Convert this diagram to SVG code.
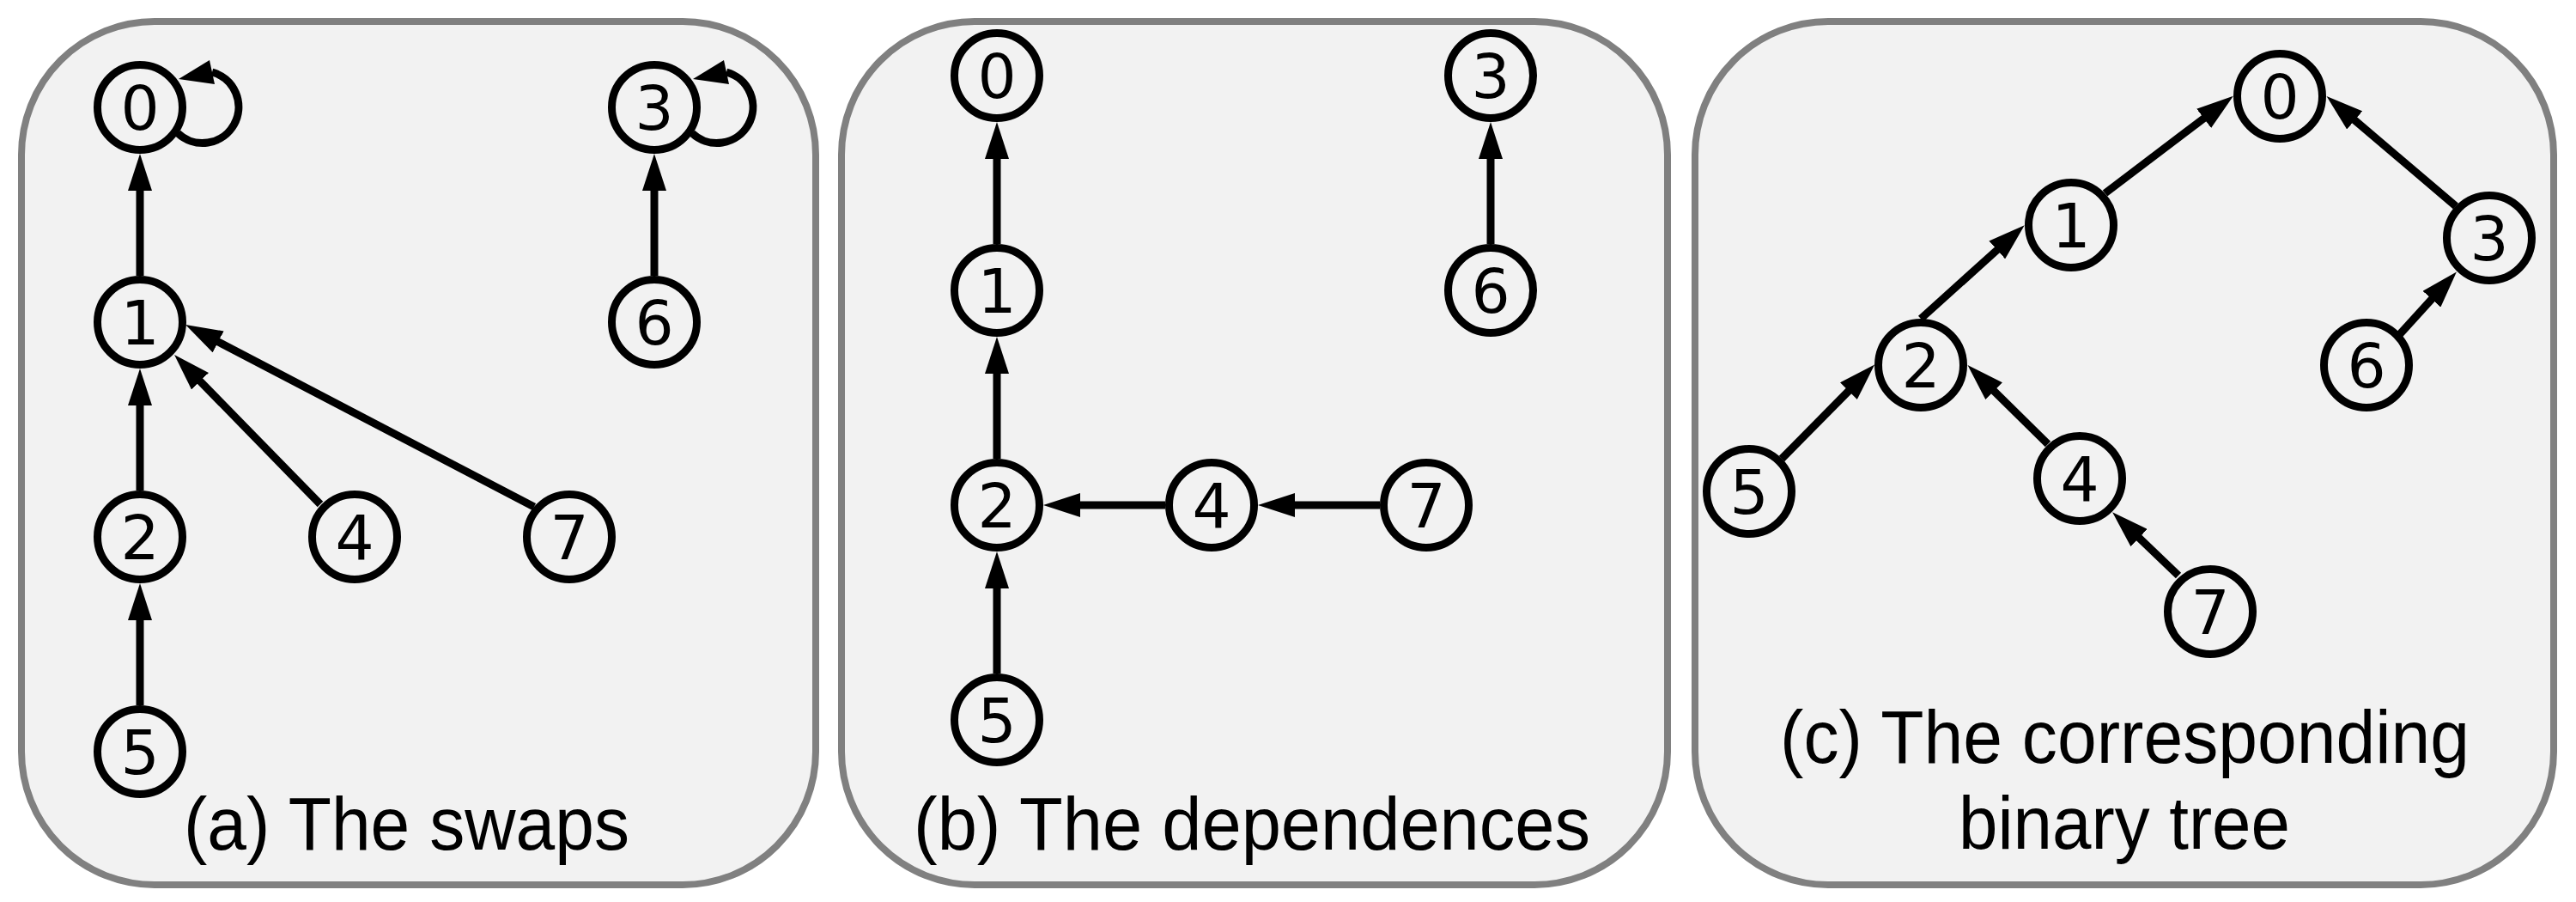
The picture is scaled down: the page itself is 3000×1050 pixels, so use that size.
<svg xmlns="http://www.w3.org/2000/svg" width="3000" height="1050" viewBox="0 0 3000 1050">
<style>
.panel{fill:#f2f2f2;stroke:#808080;stroke-width:8}
.edge{fill:none;stroke:#000;stroke-width:9;marker-end:url(#ah)}
.loop{fill:none;stroke:#000;stroke-width:9}
.head{fill:#000;stroke:none}
.node circle{fill:#f2f2f2;stroke:#000;stroke-width:9}
.node text{font-family:"DejaVu Sans",Verdana,sans-serif;font-size:71px;text-anchor:middle;fill:#000}
.cap{font-family:"Liberation Sans",Arial,sans-serif;font-size:87px;fill:#000}
</style>
<defs>
<marker id="ah" viewBox="0 0 43 28" markerWidth="43" markerHeight="28" refX="3" refY="14" orient="auto" markerUnits="userSpaceOnUse">
<path d="M0,0 L43,14 L0,28 Z" fill="#000"/>
</marker>
</defs>
<g id="panels">
<rect id="panel-a" class="panel" x="25" y="25" width="925" height="1005" rx="155" ry="155"/>
<rect id="panel-b" class="panel" x="980" y="25" width="962" height="1005" rx="155" ry="155"/>
<rect id="panel-c" class="panel" x="1974" y="25" width="1000" height="1005" rx="155" ry="155"/>
</g>
<g id="connectors">
<line class="edge" x1="163" y1="321" x2="163" y2="219"/>
<line class="edge" x1="762" y1="321" x2="762" y2="219"/>
<line class="edge" x1="163" y1="571" x2="163" y2="469"/>
<line class="edge" x1="163" y1="821" x2="163" y2="719"/>
<line class="edge" x1="373" y1="587" x2="231" y2="441.6"/>
<line class="edge" x1="622" y1="590" x2="251.5" y2="396.5"/>
<path class="loop" d="M207,155 A42,42 0 1 0 247,84"/>
<polygon class="head" points="208,92 250,98 244,70"/>
<path class="loop" d="M806,155 A42,42 0 1 0 846,84"/>
<polygon class="head" points="807,92 849,98 843,70"/>
<line class="edge" x1="1161" y1="284" x2="1161" y2="182"/>
<line class="edge" x1="1161" y1="534" x2="1161" y2="432"/>
<line class="edge" x1="1161" y1="784" x2="1161" y2="682"/>
<line class="edge" x1="1736" y1="284" x2="1736" y2="182"/>
<line class="edge" x1="1357" y1="588" x2="1255" y2="588"/>
<line class="edge" x1="1607" y1="588" x2="1505" y2="588"/>
<line class="edge" x1="2451.5" y1="225" x2="2569" y2="136"/>
<line class="edge" x1="2237" y1="371" x2="2328" y2="289"/>
<line class="edge" x1="2075" y1="534" x2="2155" y2="453"/>
<line class="edge" x1="2385" y1="517" x2="2320" y2="453"/>
<line class="edge" x1="2537" y1="670" x2="2489" y2="624"/>
<line class="edge" x1="2860" y1="240" x2="2740" y2="138"/>
<line class="edge" x1="2794" y1="390" x2="2834" y2="346"/>
</g>
<g id="nodes-a">
<g id="a0" class="node"><circle cx="163" cy="125" r="49.5"/><text x="163" y="151">0</text></g>
<g id="a3" class="node"><circle cx="762" cy="125" r="49.5"/><text x="762" y="151">3</text></g>
<g id="a1" class="node"><circle cx="163" cy="375" r="49.5"/><text x="163" y="401">1</text></g>
<g id="a6" class="node"><circle cx="762" cy="375" r="49.5"/><text x="762" y="401">6</text></g>
<g id="a2" class="node"><circle cx="163" cy="625" r="49.5"/><text x="163" y="651">2</text></g>
<g id="a4" class="node"><circle cx="413" cy="625" r="49.5"/><text x="413" y="651">4</text></g>
<g id="a7" class="node"><circle cx="663" cy="625" r="49.5"/><text x="663" y="651">7</text></g>
<g id="a5" class="node"><circle cx="163" cy="875" r="49.5"/><text x="163" y="901">5</text></g>
</g>
<g id="nodes-b">
<g id="b0" class="node"><circle cx="1161" cy="88" r="49.5"/><text x="1161" y="114">0</text></g>
<g id="b3" class="node"><circle cx="1736" cy="88" r="49.5"/><text x="1736" y="114">3</text></g>
<g id="b1" class="node"><circle cx="1161" cy="338" r="49.5"/><text x="1161" y="364">1</text></g>
<g id="b6" class="node"><circle cx="1736" cy="338" r="49.5"/><text x="1736" y="364">6</text></g>
<g id="b2" class="node"><circle cx="1161" cy="588" r="49.5"/><text x="1161" y="614">2</text></g>
<g id="b4" class="node"><circle cx="1411" cy="588" r="49.5"/><text x="1411" y="614">4</text></g>
<g id="b7" class="node"><circle cx="1661" cy="588" r="49.5"/><text x="1661" y="614">7</text></g>
<g id="b5" class="node"><circle cx="1161" cy="838" r="49.5"/><text x="1161" y="864">5</text></g>
</g>
<g id="nodes-c">
<g id="c0" class="node"><circle cx="2655" cy="112" r="49.5"/><text x="2655" y="138">0</text></g>
<g id="c1" class="node"><circle cx="2412" cy="262" r="49.5"/><text x="2412" y="288">1</text></g>
<g id="c3" class="node"><circle cx="2899" cy="277" r="49.5"/><text x="2899" y="303">3</text></g>
<g id="c2" class="node"><circle cx="2237" cy="425" r="49.5"/><text x="2237" y="451">2</text></g>
<g id="c6" class="node"><circle cx="2756" cy="425" r="49.5"/><text x="2756" y="451">6</text></g>
<g id="c4" class="node"><circle cx="2422" cy="557" r="49.5"/><text x="2422" y="583">4</text></g>
<g id="c5" class="node"><circle cx="2037" cy="572" r="49.5"/><text x="2037" y="598">5</text></g>
<g id="c7" class="node"><circle cx="2574" cy="712" r="49.5"/><text x="2574" y="738">7</text></g>
</g>
<g id="captions">
<text class="cap" x="214" y="989" textLength="519" lengthAdjust="spacingAndGlyphs">(a) The swaps</text>
<text class="cap" x="1064" y="989" textLength="788" lengthAdjust="spacingAndGlyphs">(b) The dependences</text>
<text class="cap" x="2073" y="888" textLength="803" lengthAdjust="spacingAndGlyphs">(c) The corresponding</text>
<text class="cap" x="2281" y="988" textLength="386" lengthAdjust="spacingAndGlyphs">binary tree</text>
</g>
</svg>
